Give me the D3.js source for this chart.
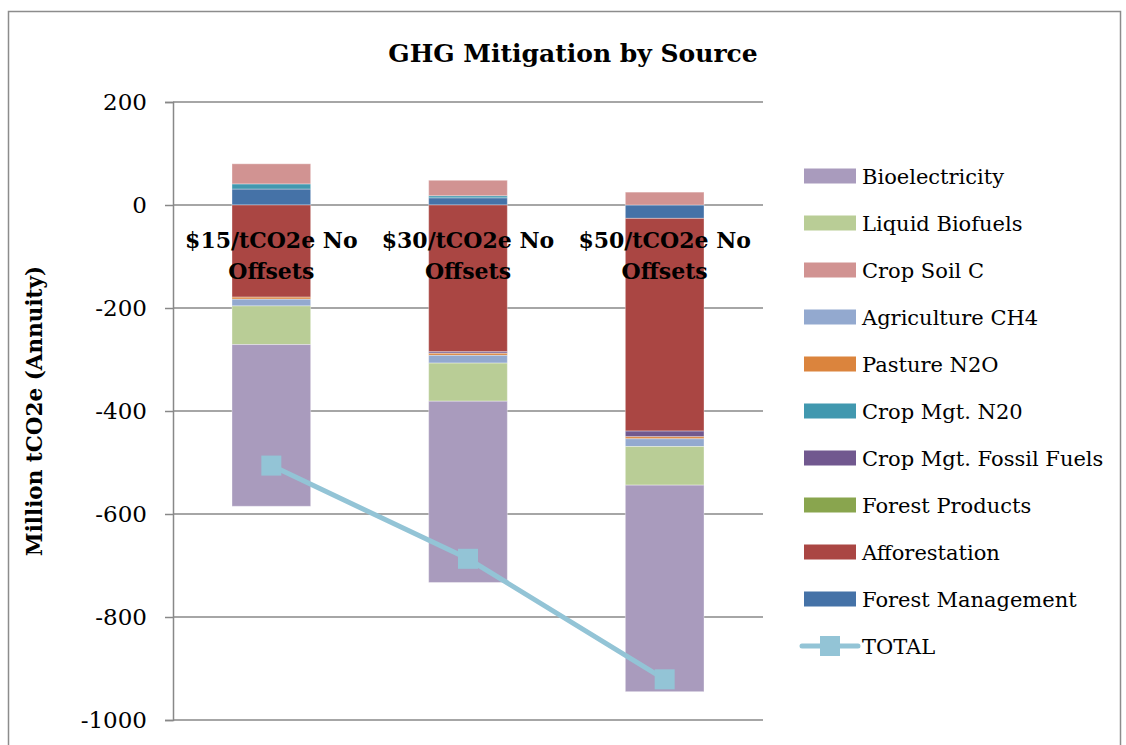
<!DOCTYPE html>
<html>
<head>
<meta charset="utf-8">
<script src="https://cdn.jsdelivr.net/npm/d3@7"></script>
<style>
  body { margin: 0; background: #fff; }
  svg { display: block; font-family: "DejaVu Serif", serif; }
</style>
</head>
<body>
<div id="chart"></div>
<script>
// Values (million tCO2e, annuity)
const categories = ["$15/tCO2e No Offsets", "$30/tCO2e No Offsets", "$50/tCO2e No Offsets"];
const seriesNames = ["Forest Management", "Afforestation", "Forest Products", "Crop Mgt. Fossil Fuels",
  "Crop Mgt. N20", "Pasture N2O", "Agriculture CH4", "Crop Soil C", "Liquid Biofuels", "Bioelectricity"];
const forestManagement = [31, 14, -26];
const afforestation = [-179, -285, -413];
const forestProducts = [0, 0, 0];
const cropMgtFossil = [0, -3, -11];
const cropMgtN20 = [10, 4, 0];
const pastureN2O = [-4, -4, -4];
const agricultureCH4 = [-13, -15, -15];
const cropSoilC = [39, 30, 25];
const liquidBiofuels = [-75, -74, -75];
const bioelectricity = [-314, -352, -401];
const total = [-506, -687, -921];
const yTicks = [200, 0, -200, -400, -600, -800, -1000];

const seriesValues = [forestManagement, afforestation, forestProducts, cropMgtFossil, cropMgtN20,
  pastureN2O, agricultureCH4, cropSoilC, liquidBiofuels, bioelectricity];
const colors = ["#4572A7", "#AA4643", "#89A54E", "#71588F", "#4198AF",
  "#DB843D", "#93A9CF", "#D19392", "#B9CD96", "#A99BBD"];
const totalColor = "#93C4D6";
const font = "DejaVu Serif, serif";

const w = 1126, h = 745;

const svg = d3.select("#chart").append("svg")
  .attr("width", w)
  .attr("height", h);

// outer chart frame
svg.append("rect")
  .attr("x", 8.5).attr("y", 11.5)
  .attr("width", 1112).attr("height", 780)
  .attr("fill", "none").attr("stroke", "#8c8c8c").attr("stroke-width", 1.5);

svg.append("text")
  .attr("x", 573).attr("y", 62)
  .attr("text-anchor", "middle")
  .attr("font-weight", "bold")
  .attr("font-size", 25)
  .text("GHG Mitigation by Source");

const x = d3.scaleBand()
  .domain(categories)
  .range([173, 763])
  .paddingInner(0.6)
  .paddingOuter(0.3);

const y = d3.scaleLinear()
  .domain([-1000, 200])
  .range([720, 102]);

// gridlines
svg.append("g")
  .selectAll("line")
  .data(yTicks)
  .enter().append("line")
  .attr("x1", 173).attr("x2", 763)
  .attr("y1", d => y(d)).attr("y2", d => y(d))
  .attr("stroke", "#888").attr("stroke-width", 1.5);

// y axis
const yAxis = d3.axisLeft(y).tickValues(yTicks).tickSize(8).tickPadding(18)
  .tickFormat(d => String(d));
const gy = svg.append("g")
  .attr("transform", "translate(173,0)")
  .call(yAxis);
gy.selectAll("path, line").attr("stroke", "#888").attr("stroke-width", 1.5);
gy.selectAll("text")
  .attr("font-family", font)
  .attr("font-size", 23)
  .attr("fill", "#000");

svg.append("text")
  .attr("transform", "translate(42,411) rotate(-90)")
  .attr("text-anchor", "middle")
  .attr("font-weight", "bold")
  .attr("font-size", 21.5)
  .text("Million tCO2e (Annuity)");

// stacked bars, positives up from 0 and negatives down, in series order
const segments = [];
categories.forEach((c, i) => {
  let pos = 0, neg = 0;
  seriesValues.forEach((vals, s) => {
    const v = vals[i];
    if (v === 0) return;
    if (v > 0) {
      segments.push({ cat: c, s: s, y0: pos, y1: pos + v });
      pos += v;
    } else {
      segments.push({ cat: c, s: s, y0: neg + v, y1: neg });
      neg += v;
    }
  });
});

svg.append("g")
  .selectAll("rect")
  .data(segments)
  .enter().append("rect")
  .attr("x", d => x(d.cat))
  .attr("width", x.bandwidth())
  .attr("y", d => y(d.y1))
  .attr("height", d => y(d.y0) - y(d.y1))
  .attr("fill", d => colors[d.s])
  .attr("stroke", "#ffffff")
  .attr("stroke-opacity", 0.35)
  .attr("stroke-width", 1);

// category labels sit on the zero line, on top of the bars
const xAxis = d3.axisBottom(x).tickSize(0).tickPadding(0);
const gx = svg.append("g")
  .attr("transform", "translate(0," + y(0) + ")")
  .call(xAxis);
gx.select(".domain").remove();
gx.selectAll("text").remove();
gx.selectAll(".tick").each(function(d) {
  const words = d.split(" ");
  const t = d3.select(this).append("text")
    .attr("text-anchor", "middle")
    .attr("font-family", font)
    .attr("font-weight", "bold")
    .attr("font-size", 22)
    .attr("fill", "#000");
  t.append("tspan").attr("x", 0).attr("y", 43).text(words.slice(0, 2).join(" "));
  t.append("tspan").attr("x", 0).attr("y", 74).text(words.slice(2).join(" "));
});

// TOTAL line with square markers
const line = d3.line()
  .x((d, i) => x(categories[i]) + x.bandwidth() / 2)
  .y(d => y(d));

svg.append("path")
  .datum(total)
  .attr("d", line)
  .attr("fill", "none")
  .attr("stroke", totalColor)
  .attr("stroke-width", 5);

svg.append("g")
  .selectAll("rect")
  .data(total)
  .enter().append("rect")
  .attr("x", (d, i) => x(categories[i]) + x.bandwidth() / 2 - 10)
  .attr("y", d => y(d) - 10)
  .attr("width", 20).attr("height", 20)
  .attr("fill", totalColor);

// legend (reverse of series order, then TOTAL)
const legendItems = seriesNames.map((n, i) => ({ name: n, color: colors[i] })).reverse();
legendItems.push({ name: "TOTAL", color: totalColor, isLine: true });

const legend = svg.append("g")
  .selectAll("g")
  .data(legendItems)
  .enter().append("g")
  .attr("transform", (d, i) => "translate(804," + (176 + i * 47) + ")");

legend.filter(d => !d.isLine).append("rect")
  .attr("x", 0).attr("y", -7.5)
  .attr("width", 52).attr("height", 15)
  .attr("fill", d => d.color);

const lineItem = legend.filter(d => d.isLine);
lineItem.append("line")
  .attr("x1", -2).attr("x2", 54)
  .attr("y1", 0).attr("y2", 0)
  .attr("stroke", totalColor).attr("stroke-width", 5)
  .attr("stroke-linecap", "round");
lineItem.append("rect")
  .attr("x", 16).attr("y", -10)
  .attr("width", 20).attr("height", 20)
  .attr("fill", totalColor);

legend.append("text")
  .attr("x", 58)
  .attr("y", 8)
  .attr("font-size", 21)
  .text(d => d.name);
</script>
</body>
</html>
